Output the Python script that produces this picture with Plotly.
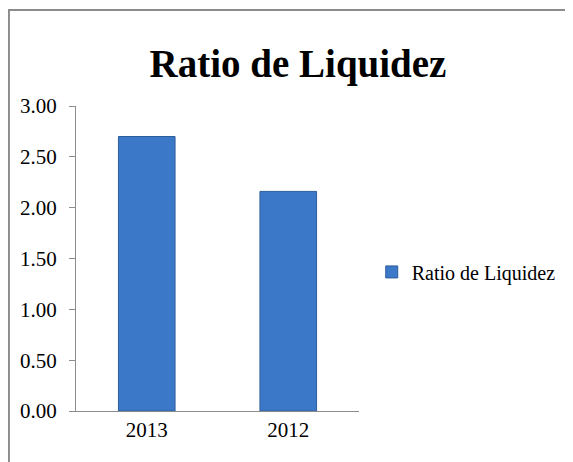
import plotly.graph_objects as go

years = ["2013", "2012"]
ratio = [2.70, 2.16]
series_name = "Ratio de Liquidez"
y_ticks = [0, 0.5, 1.0, 1.5, 2.0, 2.5, 3.0]

SERIF = "Liberation Serif, Times New Roman, serif"

# page body has an 8px margin, so the figure is 8px smaller than the window
fig = go.Figure()
fig.add_trace(go.Bar(
    x=years, y=ratio, name=series_name,
    marker=dict(color="#3b78c8", line=dict(color="#2c5c9c", width=1)),
    showlegend=True,
))

# outer chart frame (grey border, clipped on the right/bottom)
fig.add_shape(type="rect", xref="paper", yref="paper",
              x0=-0.237, x1=1.8, y0=-0.3, y1=1.315,
              line=dict(color="#8c8c8c", width=2), layer="below")

fig.update_layout(
    width=565, height=454,
    paper_bgcolor="white", plot_bgcolor="white",
    margin=dict(l=68, r=210, t=98, b=51),
    title=dict(text="<b>Ratio de Liquidez</b>", x=290 / 565, xanchor="center",
               y=1 - 55 / 454, yanchor="middle",
               font=dict(family=SERIF, size=39, color="black")),
    bargap=0.6,
    showlegend=True,
    legend=dict(x=1.045, y=0.456, xanchor="left", yanchor="middle",
                font=dict(family=SERIF, size=20, color="black"),
                itemwidth=30, bgcolor="rgba(0,0,0,0)"),
    xaxis=dict(showline=True, linecolor="#8c8c8c", linewidth=1,
               ticks="", showgrid=False,
               tickfont=dict(family=SERIF, size=21, color="black")),
    yaxis=dict(range=[0, 3], tickvals=y_ticks, tickformat=".2f",
               showline=True, linecolor="#8c8c8c", linewidth=1,
               ticks="outside", ticklen=6, tickcolor="#8c8c8c",
               ticklabelstandoff=8,
               showgrid=False, zeroline=False,
               tickfont=dict(family=SERIF, size=21, color="black")),
)

fig.write_html("out.html")
